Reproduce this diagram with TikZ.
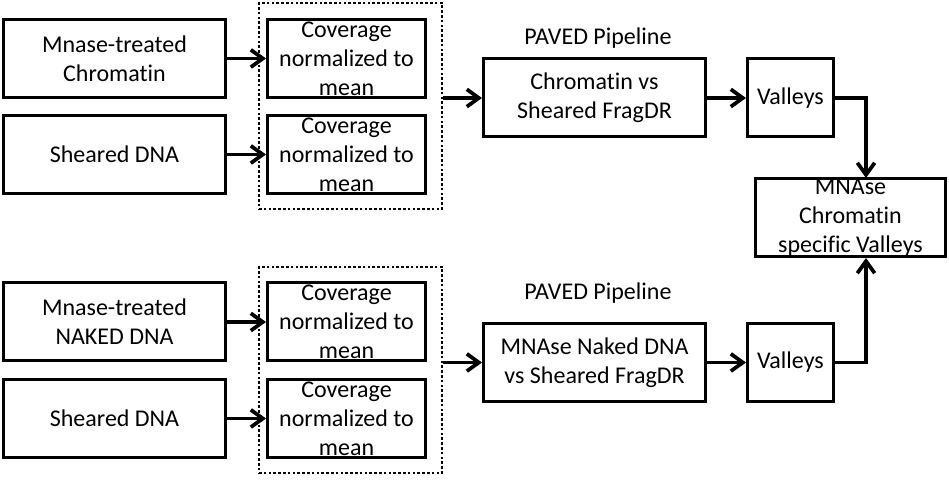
\documentclass[tikz,border=0pt]{standalone}
\usepackage{fontspec}
\setmainfont{Carlito}[Ligatures=NoCommon]
\usetikzlibrary{arrows.meta}
\tikzset{box/.style={draw,line width=2.25pt,align=center,inner sep=0pt,minimum height=58.5pt,font=\fontsize{18}{21.75}\selectfont},
  grp/.style={draw,line width=2pt,dash pattern=on 2pt off 1.6pt,minimum width=137.25pt,minimum height=154.5pt,inner sep=0pt},
  lbl/.style={font=\fontsize{18}{21.75}\selectfont},
  flow/.style={line width=2.8pt,-{Straight Barb[length=9pt,width=13pt,line width=2.8pt]}}}

\begin{document}
\begin{tikzpicture}[x=0.75pt,y=-0.75pt]
    \useasboundingbox (0,0) rectangle (949,484);

    % top branch
    \node[box,minimum width=166.5pt] (mchr)at (114.5,58.5) {Mnase-treated\\Chromatin};
    \node[box,minimum width=166.5pt] (shr1)at (114.5,154.5) {Sheared DNA};
    \node[box,minimum width=118.5pt] (cov1)at (346.5,58.5) {Coverage\\normalized to\\mean};
    \node[box,minimum width=118.5pt] (cov2)at (346.5,154.5) {Coverage\\normalized to\\mean};
    \node[grp] (grp1)at (350.5,106) {};
    \node[lbl] (pav1)at (598,38) {PAVED Pipeline};
    \node[box,minimum width=166.5pt] (pip1)at (594.5,98) {Chromatin vs\\Sheared FragDR};
    \node[box,minimum width=64.5pt] (val1)at (790.5,98) {Valleys};

    % result
    \node[box,minimum width=142.5pt] (res)at (850.5,218) {MNAse\\Chromatin\\specific Valleys};
    \coordinate (rtop)at (866,178);
    \coordinate (rbot)at (866,258);

    % bottom branch
    \node[box,minimum width=166.5pt] (mnak)at (114.5,322) {Mnase-treated\\NAKED DNA};
    \node[box,minimum width=166.5pt] (shr2)at (114.5,418.5) {Sheared DNA};
    \node[box,minimum width=118.5pt] (cov3)at (346.5,322) {Coverage\\normalized to\\mean};
    \node[box,minimum width=118.5pt] (cov4)at (346.5,418.5) {Coverage\\normalized to\\mean};
    \node[grp] (grp2)at (350.5,370) {};
    \node[lbl] (pav2)at (598,293) {PAVED Pipeline};
    \node[box,minimum width=166.5pt] (pip2)at (594.5,362.5) {MNAse Naked DNA\\vs Sheared FragDR};
    \node[box,minimum width=64.5pt] (val2)at (790.5,362.5) {Valleys};

    \draw [flow] (mchr) to (cov1);
    \draw [flow] (shr1) to (cov2);
    \draw [flow] (grp1.east |- pip1) to (pip1);
    \draw [flow] (pip1) to (val1);
    \draw [flow] (val1) -| (rtop);

    \draw [flow] (mnak) to (cov3);
    \draw [flow] (shr2) to (cov4);
    \draw [flow] (grp2.east |- pip2) to (pip2);
    \draw [flow] (pip2) to (val2);
    \draw [flow] (val2) -| (rbot);
\end{tikzpicture}
\end{document}
